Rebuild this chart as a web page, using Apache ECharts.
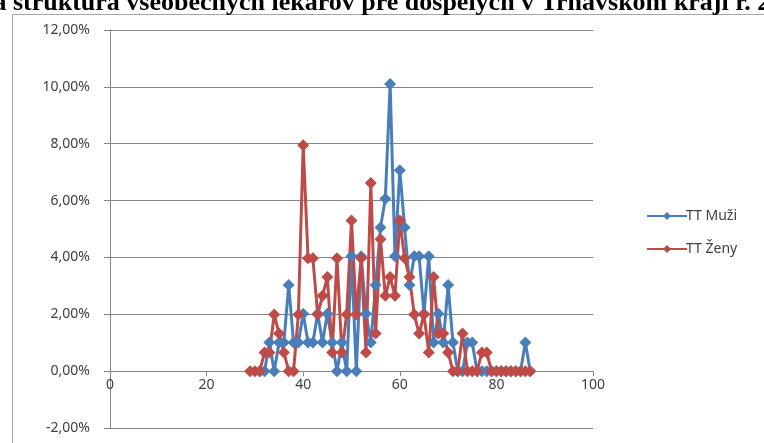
<!DOCTYPE html>
<html>
<head>
<meta charset="utf-8">
<script src="https://cdn.jsdelivr.net/npm/echarts@6/dist/echarts.min.js"></script>
<style>
  html, body { margin: 0; padding: 0; background: #fff; }
  #chart { width: 764px; height: 443px; }
</style>
</head>
<body>
<div id="chart"></div>
<script>
// vek lekárov (x) a podiel v % (y)
var ageMen = [31,32,33,34,35,36,37,38,39,40,41,42,43,44,45,46,47,48,49,50,51,52,53,54,55,56,57,58,59,60,61,62,63,64,65,66,67,68,69,70,71,72,73,74,75,76,77,78,79,80,81,82,83,84,85,86,87];
var valMen = [0,0,1.01,0,1.01,1.01,3.03,1.01,1.01,2.02,1.01,1.01,2.02,1.01,2.02,1.01,0,1.01,0,4.04,0,4.04,2.02,1.01,3.03,5.05,6.06,10.1,4.04,7.07,5.05,3.03,4.04,4.04,2.02,4.04,1.01,2.02,1.01,3.03,1.01,0,0,1.01,1.01,0,0,0,0,0,0,0,0,0,0,1.01,0];
var ageWomen = [29,30,31,32,33,34,35,36,37,38,39,40,41,42,43,44,45,46,47,48,49,50,51,52,53,54,55,56,57,58,59,60,61,62,63,64,65,66,67,68,69,70,71,72,73,74,75,76,77,78,79,80,81,82,83,84,85,86,87];
var valWomen = [0,0,0,0.66,0.66,1.99,1.32,0.66,0,0,1.99,7.95,3.97,3.97,1.99,2.65,3.31,0.66,3.97,0.66,1.99,5.3,1.99,3.97,0.66,6.62,1.32,4.64,2.65,3.31,2.65,5.3,3.97,3.31,1.99,1.32,1.99,0.66,3.31,1.32,1.32,0.66,0,0,1.32,0,0,0,0.66,0.66,0,0,0,0,0,0,0,0,0];
var seriesNames = ['TT Muži', 'TT Ženy'];
var titleText = 'Veková štruktúra všeobecných lekárov pre dospelých v Trnavskom kraji r. 2012';

function pairs(xs, ys) {
    var out = [];
    for (var i = 0; i < xs.length; i++) {
        out.push([xs[i], ys[i]]);
    }
    return out;
}

var myChart = echarts.init(document.getElementById('chart'));
var font = 'Noto Sans';

// os x sedí na nule (mriežka 398 px na 14 %, 2 % pod nulou)
var zeroOffset = -398 * 2 / 14;

var option = {
    animation: false,
    backgroundColor: '#fff',
    graphic: [
        {
            type: 'rect',
            shape: { x: 12.5, y: 14.5, width: 800, height: 500 },
            style: { fill: 'none', stroke: '#a6a6a6', lineWidth: 1 },
            silent: true
        },
        {
            type: 'text',
            left: -75,
            top: -10,
            style: {
                text: titleText,
                font: 'bold 26px "Liberation Serif"',
                fill: '#000'
            },
            silent: true
        }
    ],
    grid: {
        left: 110,
        right: 171,
        top: 30,
        bottom: 15,
        containLabel: false
    },
    legend: {
        orient: 'vertical',
        left: 641,
        top: 204,
        itemGap: 19,
        itemWidth: 40,
        itemHeight: 10,
        data: seriesNames,
        textStyle: { fontFamily: font, fontSize: 14, color: '#404040', padding: [0, 0, 0, -6] }
    },
    xAxis: {
        type: 'value',
        min: 0,
        max: 100,
        interval: 20,
        offset: zeroOffset,
        axisLine: { onZero: false, lineStyle: { color: '#868686', width: 1 } },
        axisTick: { show: true, inside: false, length: 5, lineStyle: { color: '#868686' } },
        axisLabel: { fontFamily: font, fontSize: 14, color: '#404040', margin: 7 },
        splitLine: { show: false }
    },
    yAxis: {
        type: 'value',
        min: -2,
        max: 12,
        interval: 2,
        axisLine: { show: true, onZero: false, lineStyle: { color: '#868686', width: 1 } },
        axisTick: { show: true, length: 6, lineStyle: { color: '#868686' } },
        axisLabel: {
            fontFamily: font,
            fontSize: 14,
            color: '#404040',
            margin: 20,
            formatter: function (v) {
                return v.toFixed(2).replace('.', ',') + '%';
            }
        },
        splitLine: { show: true, lineStyle: { color: '#868686', width: 1 } }
    },
    series: [
        {
            name: seriesNames[0],
            type: 'line',
            data: pairs(ageMen, valMen),
            color: '#4a7ebb',
            symbol: 'diamond',
            symbolSize: 12,
            lineStyle: { width: 3 },
            itemStyle: { color: '#4a7ebb' }
        },
        {
            name: seriesNames[1],
            type: 'line',
            data: pairs(ageWomen, valWomen),
            color: '#be4b48',
            symbol: 'diamond',
            symbolSize: 12,
            lineStyle: { width: 3 },
            itemStyle: { color: '#be4b48' }
        }
    ]
};
myChart.setOption(option);
</script>
</body>
</html>
